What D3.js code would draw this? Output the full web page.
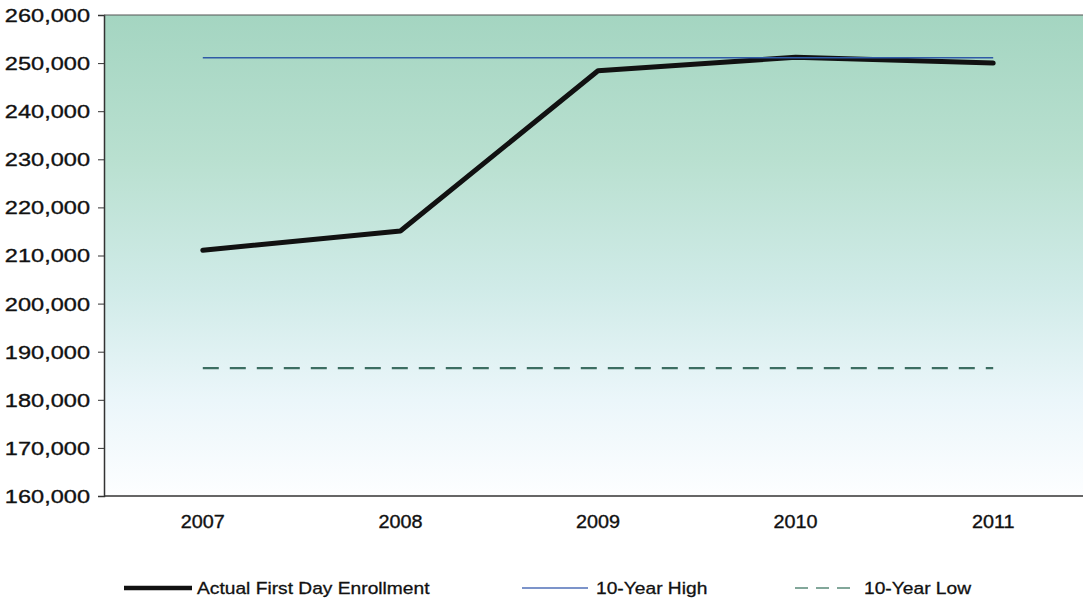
<!DOCTYPE html>
<html><head><meta charset="utf-8">
<script src="https://cdn.jsdelivr.net/npm/d3@7"></script>
<style>body{margin:0;background:#fff;}svg{display:block;font-family:"Liberation Sans",Arial,sans-serif;}</style>
</head><body>
<svg id="c" width="1083" height="600"></svg>
<script>
const years = ["2007","2008","2009","2010","2011"];
const actual = [211100, 215100, 248400, 251200, 250000];
const high = [251100, 251100, 251100, 251100, 251100];
const low = [186600, 186600, 186600, 186600, 186600];
const yTicks = [160000,170000,180000,190000,200000,210000,220000,230000,240000,250000,260000];
const legendLabels = ["Actual First Day Enrollment", "10-Year High", "10-Year Low"];

const svg = d3.select("#c");
const mLeft = 104, mRight = 1092, mTop = 15, mBottom = 496;
const x = d3.scaleBand().domain(years).range([mLeft, mRight]);
const y = d3.scaleLinear().domain([160000, 260000]).range([mBottom, mTop]);
const cx = d => x(d) + x.bandwidth()/2;

const defs = svg.append("defs");
const g = defs.append("linearGradient").attr("id","bg").attr("x1",0).attr("y1",0).attr("x2",0).attr("y2",1);
[[0,"#a4d5c1"],[0.3,"#b9e0d0"],[0.57,"#d0ebe8"],[0.8,"#ebf6fa"],[1,"#fdfeff"]].forEach(s=>g.append("stop").attr("offset",s[0]).attr("stop-color",s[1]));

svg.append("rect").attr("x",mLeft).attr("y",mTop).attr("width",mRight-mLeft).attr("height",mBottom-mTop).attr("fill","url(#bg)");

// axes
const yAxis = d3.axisLeft(y).tickValues(yTicks).tickFormat(d3.format(",")).tickSize(6).tickPadding(6);
const ya = svg.append("g").attr("transform",`translate(${mLeft},0)`).call(yAxis);
ya.select(".domain").attr("stroke","#333").attr("stroke-width",1.5);
ya.selectAll(".tick line").attr("stroke","#333");
ya.selectAll("text").attr("font-size",19).attr("fill","#111").attr("stroke","#111").attr("stroke-width",0.35)
  .attr("x",0).attr("dy","0.34em").attr("transform","translate(-14,0) scale(1.24,1)");

const xAxis = d3.axisBottom(x).tickSize(0).tickPadding(17);
const xa = svg.append("g").attr("transform",`translate(0,${mBottom})`).call(xAxis);
xa.select(".domain").remove();
xa.selectAll("text").attr("font-size",18).attr("fill","#111").attr("stroke","#111").attr("stroke-width",0.35)
  .attr("transform","scale(1.1,1)").attr("y",19);
svg.append("line").attr("x1",mLeft).attr("x2",mRight).attr("y1",mBottom).attr("y2",mBottom).attr("stroke","#333").attr("stroke-width",1.5);
svg.append("line").attr("x1",mLeft).attr("x2",mRight).attr("y1",mTop).attr("y2",mTop).attr("stroke","#555").attr("stroke-width",1.2);

const line = d3.line().x((d,i)=>cx(years[i])).y(d=>y(d));
svg.append("path").datum(low).attr("d",line).attr("fill","none").attr("stroke","#3c6e62").attr("stroke-width",2.2).attr("stroke-dasharray","16,11");
svg.append("path").datum(actual).attr("d",line).attr("fill","none").attr("stroke","#111").attr("stroke-width",5).attr("stroke-linejoin","round").attr("stroke-linecap","round");
svg.append("path").datum(high).attr("d",line).attr("fill","none").attr("stroke","#2f5aa6").attr("stroke-width",1.6);

// legend
const lg = svg.append("g");
const items = [
  {label:legendLabels[0], x:124, w:68, tx:197, stroke:"#111", sw:4.5, dash:null},
  {label:legendLabels[1], x:522, w:66, tx:596, stroke:"#5070b8", sw:1.6, dash:null},
  {label:legendLabels[2], x:795, w:63, tx:864, stroke:"#5a8a7a", sw:1.6, dash:"13,8"}
];
items.forEach(it=>{
  lg.append("line").attr("x1",it.x).attr("x2",it.x+it.w).attr("y1",588).attr("y2",588).attr("stroke",it.stroke).attr("stroke-width",it.sw).attr("stroke-dasharray",it.dash);
  lg.append("text").attr("x",0).attr("y",0).attr("transform",`translate(${it.tx},594) scale(1.13,1)`)
    .attr("font-size",17).attr("fill","#111").attr("stroke","#111").attr("stroke-width",0.3).text(it.label);
});
</script>
</body></html>
